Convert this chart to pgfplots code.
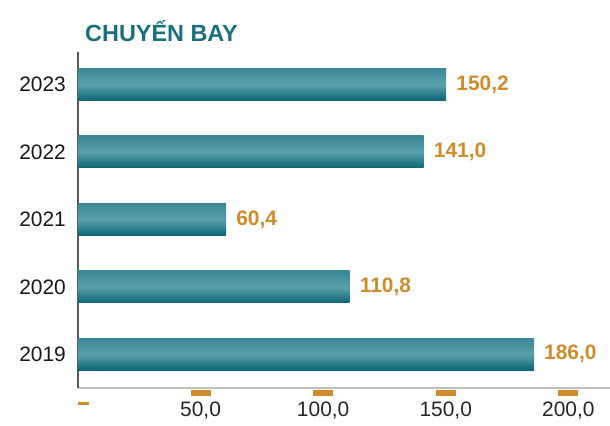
\documentclass[border=0pt]{standalone}
\usepackage{pgfplots}
\pgfplotsset{compat=1.18}
\usepackage{fontspec}
\setmainfont{Liberation Sans}
\definecolor{teal1}{HTML}{1B6F80}
\definecolor{orng}{HTML}{D08C2A}
\definecolor{bartop}{HTML}{3A8895}
\definecolor{barmid}{HTML}{5AA0AB}
\definecolor{barbot}{HTML}{0D6676}
\pgfplotsset{mybar/.style={xbar, bar width=32bp, bar shift=0pt, draw=none,
    top color=bartop, bottom color=barbot, middle color=barmid,
    nodes near coords={\pgfmathprintnumber{\pgfplotspointmeta}},
    nodes near coords style={font=\fontsize{21}{25}\selectfont\bfseries, text=orng, anchor=west, inner sep=0pt, xshift=10bp},
    point meta=x}}
\begin{document}
\begin{tikzpicture}[x=1bp,y=1bp]
\useasboundingbox (-78,-37) rectangle (532,388);
\begin{axis}[
  at={(0,0)}, anchor=south west,
  scale only axis, width=532bp, height=336bp,
  xmin=0, xmax=217, ymin=-0.5, ymax=4.48,
  axis x line*=bottom, axis y line*=left,
  x axis line style={draw=black!25, line width=1.5bp, -},
  y axis line style={draw=black!65, line width=1.5bp, -},
  ytick={0,1,2,3,4}, yticklabels={2019,2020,2021,2022,2023},
  ytick style={draw=none},
  yticklabel style={font=\fontsize{21}{25}\selectfont, text=black!90, inner sep=0pt, xshift=-6bp},
  xtick={50,100,150,200},
  xtick style={draw=orng, line width=20bp, yshift=-2bp},
  major tick length=6bp, tick align=outside,
  /pgf/number format/.cd, use comma, fixed, fixed zerofill, precision=1, assume math mode=true,
  /pgfplots/.cd,
  xticklabel style={font=\fontsize{21}{25}\selectfont, text=black!85, yshift=-4bp},
  extra x ticks={0},
  extra x tick labels={\hspace*{12bp}\vphantom{0}\textcolor{orng}{\raisebox{5.5bp}{\rule{11bp}{3bp}}}},
  extra x tick style={major tick length=0bp},
  clip=false,
]
\addplot[mybar] coordinates {(186.0,0)};
\addplot[mybar] coordinates {(110.8,1)};
\addplot[mybar] coordinates {(60.4,2)};
\addplot[mybar] coordinates {(141.0,3)};
\addplot[mybar] coordinates {(150.2,4)};
\end{axis}
\node[anchor=base west, inner sep=0pt, font=\fontsize{23.5}{28}\selectfont\bfseries, text=teal1] at (7,347) {CHUYẾN BAY};
\end{tikzpicture}
\end{document}
